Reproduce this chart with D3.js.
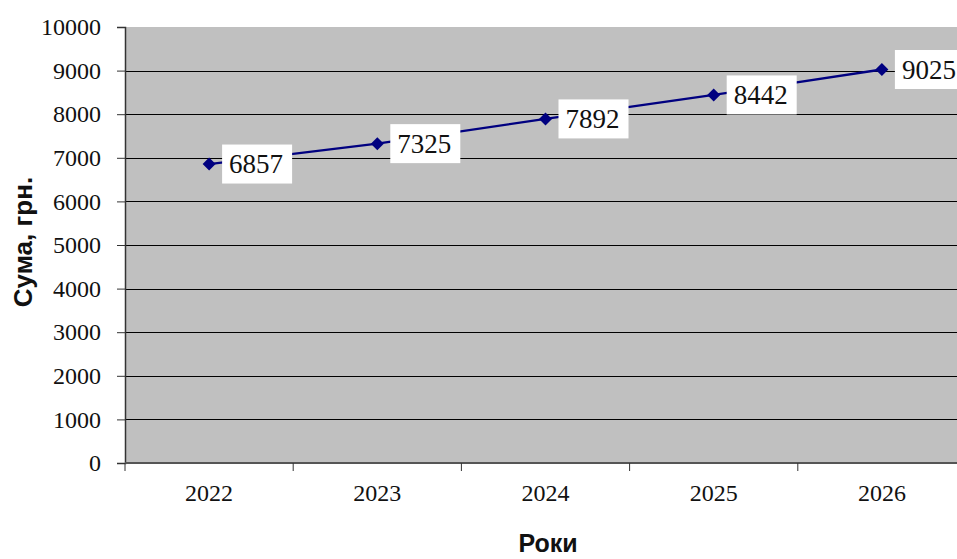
<!DOCTYPE html>
<html>
<head>
<meta charset="utf-8">
<script src="https://cdn.jsdelivr.net/npm/d3@7"></script>
<style>
  html, body { margin: 0; padding: 0; background: #fff; }
  svg { display: block; }
</style>
</head>
<body>
<svg id="chart" width="957" height="559"></svg>
<script>
// Annual totals, UAH
const years = ["2022", "2023", "2024", "2025", "2026"];
const amounts = [6857, 7325, 7892, 8442, 9025];
const yTicks = [0, 1000, 2000, 3000, 4000, 5000, 6000, 7000, 8000, 9000, 10000];

const svg = d3.select("#chart");
const plot = { left: 125, top: 27, right: 966, bottom: 463 };

const x = d3.scaleBand().domain(years).range([plot.left, plot.right]);
const y = d3.scaleLinear().domain([0, 10000]).range([plot.bottom, plot.top]);

// plot background
svg.append("rect")
  .attr("x", plot.left).attr("y", plot.top)
  .attr("width", plot.right - plot.left).attr("height", plot.bottom - plot.top)
  .attr("fill", "#c0c0c0");

// horizontal gridlines
svg.append("g").selectAll("line")
  .data(yTicks.filter(d => d > 0 && d < 10000))
  .join("line")
  .attr("x1", plot.left).attr("x2", plot.right)
  .attr("y1", d => Math.round(y(d)) + 0.5).attr("y2", d => Math.round(y(d)) + 0.5)
  .attr("stroke", "#000").attr("stroke-width", 1);

// y axis
const yAxis = d3.axisLeft(y).tickValues(yTicks).tickSize(8).tickPadding(16)
  .tickFormat(d3.format("d"));
svg.append("g")
  .attr("transform", `translate(${plot.left},0)`)
  .call(yAxis)
  .call(g => g.select(".domain").attr("stroke", "#333").attr("stroke-width", 1.5))
  .call(g => g.selectAll(".tick line").attr("stroke", "#333"))
  .call(g => g.selectAll("text")
    .attr("font-family", "'Liberation Serif', 'Times New Roman', serif")
    .attr("font-size", 24).attr("fill", "#111"));

// x axis: ticks on category boundaries, labels at category centres
const xAxisG = svg.append("g").attr("transform", `translate(0,${plot.bottom})`);
xAxisG.append("line")
  .attr("x1", plot.left).attr("x2", plot.right)
  .attr("y1", 0).attr("y2", 0)
  .attr("stroke", "#555").attr("stroke-width", 2);
xAxisG.selectAll("line.tick")
  .data(years.map(d => x(d)))
  .join("line").attr("class", "tick")
  .attr("x1", d => d).attr("x2", d => d)
  .attr("y1", 0).attr("y2", 8)
  .attr("stroke", "#333");
xAxisG.selectAll("text")
  .data(years)
  .join("text")
  .attr("x", d => x(d) + x.bandwidth() / 2)
  .attr("y", 38)
  .attr("text-anchor", "middle")
  .attr("font-family", "'Liberation Serif', 'Times New Roman', serif")
  .attr("font-size", 24).attr("fill", "#111")
  .text(d => d);

// series line
const cx = d => x(d) + x.bandwidth() / 2;
const data = years.map((yr, i) => ({ yr, v: amounts[i] }));
svg.append("path")
  .datum(data)
  .attr("fill", "none")
  .attr("stroke", "#000080")
  .attr("stroke-width", 2.3)
  .attr("d", d3.line().x(d => cx(d.yr)).y(d => y(d.v)));

// diamond markers
svg.append("g").selectAll("path")
  .data(data)
  .join("path")
  .attr("transform", d => `translate(${cx(d.yr)},${y(d.v)})`)
  .attr("d", "M0,-6.5L6.5,0L0,6.5L-6.5,0Z")
  .attr("fill", "#000080");

// value labels in white boxes
const labels = svg.append("g").selectAll("g")
  .data(data)
  .join("g")
  .attr("transform", d => `translate(${cx(d.yr) + 13},${y(d.v)})`);
labels.append("rect")
  .attr("x", 0).attr("y", -19.5)
  .attr("width", 70).attr("height", 39)
  .attr("fill", "#fff");
labels.append("text")
  .attr("x", 7).attr("y", 9)
  .attr("font-family", "'Liberation Serif', 'Times New Roman', serif")
  .attr("font-size", 27).attr("fill", "#111")
  .text(d => d.v);

// axis titles
svg.append("text")
  .attr("transform", "translate(32,242) rotate(-90)")
  .attr("text-anchor", "middle")
  .attr("font-family", "'Liberation Sans', Arial, sans-serif")
  .attr("font-weight", "bold").attr("font-size", 26).attr("fill", "#111")
  .text("Сума, грн.");
svg.append("text")
  .attr("x", 548).attr("y", 552)
  .attr("text-anchor", "middle")
  .attr("font-family", "'Liberation Sans', Arial, sans-serif")
  .attr("font-weight", "bold").attr("font-size", 25).attr("fill", "#111")
  .text("Роки");
</script>
</body>
</html>
